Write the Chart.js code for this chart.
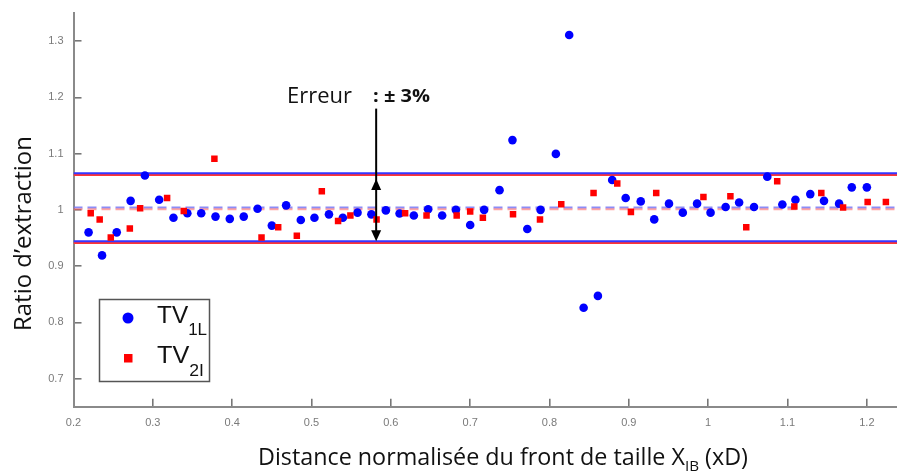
<!DOCTYPE html>
<html>
<head>
<meta charset="utf-8">
<script src="https://cdn.jsdelivr.net/npm/chart.js@4.4.0/dist/chart.umd.min.js"></script>
<style>
  html, body { margin: 0; padding: 0; background: #fff; }
  #wrap { width: 897px; height: 471px; }
</style>
</head>
<body>
<div id="wrap"><canvas id="myChart" width="897" height="471"></canvas></div>
<script>
// TV1L (blue circles)
const tv1X = [0.219, 0.236, 0.2545, 0.272, 0.290, 0.308, 0.326, 0.3435, 0.361, 0.379,
  0.397, 0.4146, 0.432, 0.450, 0.468, 0.4865, 0.5037, 0.522, 0.5395, 0.558,
  0.5755, 0.5937, 0.611, 0.629, 0.647, 0.6647, 0.682, 0.700, 0.7176, 0.737,
  0.7533, 0.772, 0.7887, 0.808, 0.8248, 0.843, 0.861, 0.879, 0.896, 0.915,
  0.932, 0.9506, 0.968, 0.986, 1.003, 1.022, 1.039, 1.0578, 1.0745, 1.0935,
  1.110, 1.1287, 1.146, 1.165, 1.181, 1.200];
const tv1Y = [0.960, 0.919, 0.960, 1.016, 1.061, 1.018, 0.986, 0.994, 0.994, 0.988,
  0.984, 0.988, 1.002, 0.972, 1.008, 0.982, 0.986, 0.992, 0.986, 0.995,
  0.992, 0.999, 0.9935, 0.990, 1.001, 0.990, 1.000, 0.973, 1.000, 1.035,
  1.124, 0.966, 1.000, 1.0995, 1.311, 0.826, 0.847, 1.053, 1.021, 1.015,
  0.983, 1.011, 0.995, 1.011, 0.995, 1.005, 1.013, 1.005, 1.059, 1.0095,
  1.018, 1.028, 1.016, 1.011, 1.040, 1.040];

// TV2I (red squares)
const tv2X = [0.2217, 0.233, 0.247, 0.271, 0.284, 0.318, 0.339, 0.3776, 0.437, 0.458,
  0.4815, 0.513, 0.5335, 0.549, 0.582, 0.618, 0.645, 0.683, 0.700, 0.716,
  0.754, 0.788, 0.8148, 0.8555, 0.8854, 0.9026, 0.9345, 0.994, 1.028, 1.048,
  1.087, 1.1086, 1.1426, 1.170, 1.201, 1.224];
const tv2Y = [0.994, 0.983, 0.951, 0.967, 1.003, 1.021, 0.998, 1.091, 0.951, 0.969,
  0.954, 1.033, 0.980, 0.990, 0.983, 0.994, 0.990, 0.990, 0.997, 0.986,
  0.992, 0.983, 1.010, 1.030, 1.047, 0.9964, 1.030, 1.023, 1.024, 0.969,
  1.051, 1.006, 1.030, 1.004, 1.014, 1.014];

// error band lines: [lower, mean, upper]
const bandTV1 = [0.944, 1.004, 1.065];
const bandTV2 = [0.941, 1.001, 1.062];

const xTicks = [0.2, 0.3, 0.4, 0.5, 0.6, 0.7, 0.8, 0.9, 1.0, 1.1, 1.2];
const xTickLabels = ["0.2", "0.3", "0.4", "0.5", "0.6", "0.7", "0.8", "0.9", "1", "1.1", "1.2"];
const yTicks = [0.7, 0.8, 0.9, 1.0, 1.1, 1.2, 1.3];
const yTickLabels = ["0.7", "0.8", "0.9", "1", "1.1", "1.2", "1.3"];
const xRange = [0.2, 1.238];
const yRange = [0.65, 1.35];

const axisGray = "#8a8a8a";
const labelGray = "#7a7a7a";

function hLine(y, color, dash) {
  return {
    type: "scatter",
    data: [{ x: xRange[0], y: y }, { x: xRange[1], y: y }],
    showLine: true,
    borderColor: color,
    borderWidth: 2,
    borderDash: dash || [],
    pointRadius: 0,
    order: 5
  };
}

// draw text squeezed/stretched to a given width
function drawParts(ctx, parts, x, y, width) {
  let total = 0;
  parts.forEach(p => { ctx.font = p.font; p.w = ctx.measureText(p.text).width; total += p.w; });
  const k = width ? width / total : 1;
  ctx.save();
  ctx.translate(x, y);
  ctx.scale(k, 1);
  let cx = 0;
  parts.forEach(p => {
    ctx.font = p.font;
    ctx.fillText(p.text, cx, p.dy || 0);
    cx += p.w;
  });
  ctx.restore();
}

const extras = {
  id: "extras",
  afterDraw(chart) {
    const ctx = chart.ctx;
    const xs = chart.scales.x, ys = chart.scales.y;
    ctx.save();

    // error arrow
    const ax = xs.getPixelForValue(0.5815);
    const aTop = ys.getPixelForValue(1.18);
    const up = ys.getPixelForValue(bandTV2[2]) + 4;
    const down = ys.getPixelForValue(bandTV1[0]);
    ctx.strokeStyle = "#000";
    ctx.fillStyle = "#000";
    ctx.lineWidth = 2;
    ctx.beginPath();
    ctx.moveTo(ax, aTop);
    ctx.lineTo(ax, down - 4);
    ctx.stroke();
    ctx.beginPath();
    ctx.moveTo(ax, up); ctx.lineTo(ax - 5, up + 11); ctx.lineTo(ax + 5, up + 11); ctx.closePath();
    ctx.fill();
    ctx.beginPath();
    ctx.moveTo(ax, down); ctx.lineTo(ax - 5, down - 11); ctx.lineTo(ax + 5, down - 11); ctx.closePath();
    ctx.fill();

    // annotation text
    ctx.fillStyle = "#111";
    ctx.textBaseline = "alphabetic";
    ctx.textAlign = "left";
    drawParts(ctx, [{ text: "Erreur", font: "21px 'Open Sans'" }], 287, 103, 65);
    drawParts(ctx, [{ text: ": ± 3%", font: "bold 17px 'Open Sans'" }], 373, 102, 57);

    // axis titles
    drawParts(ctx, [
      { text: "Distance normalisée du front de taille X", font: "23px 'Open Sans'" },
      { text: "IB", font: "15px 'Open Sans'", dy: 6 },
      { text: " (xD)", font: "23px 'Open Sans'" }
    ], 258, 465, 490);
    ctx.save();
    ctx.translate(31, 331);
    ctx.rotate(-Math.PI / 2);
    drawParts(ctx, [{ text: "Ratio d’extraction", font: "23px 'Open Sans'" }], 0, 0, 195);
    ctx.restore();

    // legend
    ctx.fillStyle = "#fff";
    ctx.fillRect(99, 299, 110, 82);
    ctx.strokeStyle = "#555";
    ctx.lineWidth = 1.5;
    ctx.strokeRect(99.5, 299.5, 110, 82);
    ctx.fillStyle = "#0000ff";
    ctx.beginPath();
    ctx.arc(128, 318, 5.5, 0, Math.PI * 2);
    ctx.fill();
    ctx.fillStyle = "#ff0000";
    ctx.fillRect(124, 354, 8.5, 8.5);
    ctx.fillStyle = "#111";
    drawParts(ctx, [
      { text: "TV", font: "23px 'Liberation Sans'" },
      { text: "1L", font: "16px 'Liberation Sans'", dy: 12 }
    ], 157, 323, 50);
    drawParts(ctx, [
      { text: "TV", font: "23px 'Liberation Sans'" },
      { text: "2I", font: "16px 'Liberation Sans'", dy: 13 }
    ], 157, 363, 47);

    ctx.restore();
  }
};

// short tick marks pointing into the plot
const inwardGrid = {
  display: true,
  drawOnChartArea: false,
  drawTicks: true,
  tickLength: -8,
  color: "#777",
  lineWidth: 1.6
};

function noPad(s) {
  s.paddingTop = 0;
  s.paddingBottom = 0;
  s.paddingLeft = 0;
  s.paddingRight = 0;
}

const ctx = document.getElementById("myChart").getContext("2d");
const myChart = new Chart(ctx, {
  type: "scatter",
  data: {
    datasets: [
      {
        label: "TV2I",
        data: tv2X.map((x, i) => ({ x: x, y: tv2Y[i] })),
        pointStyle: "rect",
        pointRadius: 4.6,
        backgroundColor: "#ff0000",
        borderWidth: 0,
        order: 1
      },
      {
        label: "TV1L",
        data: tv1X.map((x, i) => ({ x: x, y: tv1Y[i] })),
        pointStyle: "circle",
        pointRadius: 4.3,
        backgroundColor: "#0000ff",
        borderWidth: 0,
        order: 2
      },
      hLine(bandTV1[2], "#3535ff"),
      hLine(bandTV2[2], "#ff3535"),
      hLine(bandTV1[0], "#3535ff"),
      hLine(bandTV2[0], "#ff3535"),
      hLine(bandTV2[1], "rgba(255,90,90,0.55)", [9, 5]),
      hLine(bandTV1[1], "rgba(120,120,245,0.85)", [9, 5])
    ]
  },
  options: {
    responsive: false,
    animation: false,
    layout: { autoPadding: false, padding: { top: 13, right: 0, left: 0, bottom: 0 } },
    plugins: {
      legend: { display: false },
      tooltip: { enabled: false }
    },
    scales: {
      x: {
        type: "linear",
        min: xRange[0],
        max: xRange[1],
        afterBuildTicks: s => { s.ticks = xTicks.map(v => ({ value: v })); },
        afterFit: s => { s.height = 64.3; noPad(s); },
        grid: inwardGrid,
        border: { display: true, color: axisGray, width: 2 },
        ticks: {
          color: labelGray,
          font: { family: "Liberation Sans", size: 11 },
          padding: 18,
          maxRotation: 0,
          callback: (v, i) => xTickLabels[i]
        }
      },
      y: {
        type: "linear",
        min: yRange[0],
        max: yRange[1],
        afterBuildTicks: s => { s.ticks = yTicks.map(v => ({ value: v })); },
        afterFit: s => { s.width = 73.5; noPad(s); },
        grid: inwardGrid,
        border: { display: true, color: axisGray, width: 2 },
        ticks: {
          color: labelGray,
          font: { family: "Liberation Sans", size: 11 },
          padding: 18,
          callback: (v, i) => yTickLabels[i]
        }
      }
    }
  },
  plugins: [extras]
});
</script>
</body>
</html>
